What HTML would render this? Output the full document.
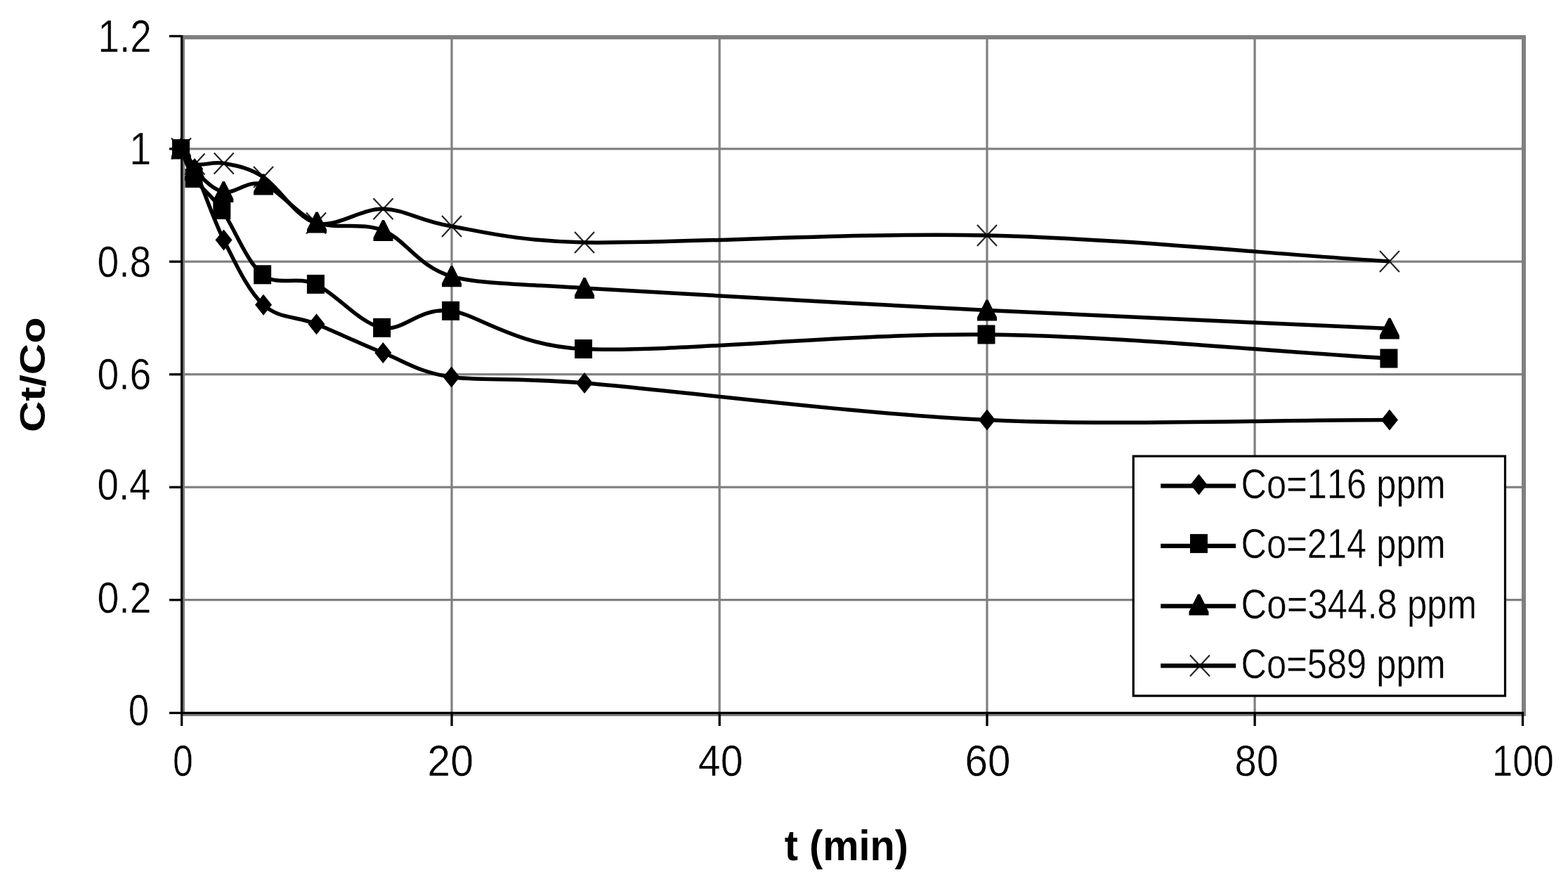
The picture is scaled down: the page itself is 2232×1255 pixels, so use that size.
<!DOCTYPE html>
<html lang="en"><head><meta charset="utf-8"><title>Ct/Co vs t (min)</title>
<style>html,body{margin:0;padding:0;background:#fff;}body{width:2232px;height:1255px;overflow:hidden;}svg{display:block;}text{font-family:"Liberation Sans",sans-serif;fill:#000;font-kerning:none;white-space:pre;stroke:#fff;stroke-width:0.8;}text.b{stroke:none;}</style></head><body>
<svg width="2232" height="1255" viewBox="0 0 2232 1255">
<rect width="2232" height="1255" fill="#fff"/>
<g fill="#808080"><rect x="641.4" y="50" width="3.2" height="969"/><rect x="1022.6" y="50" width="3.2" height="969"/><rect x="1403.4" y="50" width="3.2" height="969"/><rect x="1784.5" y="50" width="3.2" height="969"/><rect x="257" y="210.2" width="1915" height="3.2"/><rect x="257" y="370.6" width="1915" height="3.2"/><rect x="257" y="531.1" width="1915" height="3.2"/><rect x="257" y="691.6" width="1915" height="3.2"/><rect x="257" y="852.0" width="1915" height="3.2"/><rect x="257" y="50" width="1915" height="6"/><rect x="257" y="1013" width="1915" height="6"/><rect x="257" y="50" width="6" height="969"/><rect x="2166" y="50" width="6" height="969"/></g>
<g fill="#000"><rect x="257" y="50" width="3.3" height="966"/><rect x="257" y="1012.8" width="1912" height="3.3"/><rect x="241" y="49.8" width="17" height="3.3"/><rect x="241" y="210.2" width="17" height="3.3"/><rect x="241" y="370.6" width="17" height="3.3"/><rect x="241" y="531.1" width="17" height="3.3"/><rect x="241" y="691.6" width="17" height="3.3"/><rect x="241" y="852.0" width="17" height="3.3"/><rect x="241" y="1012.8" width="17" height="3.3"/><rect x="257.0" y="1013" width="3.3" height="20"/><rect x="641.4" y="1013" width="3.3" height="20"/><rect x="1022.6" y="1013" width="3.3" height="20"/><rect x="1403.4" y="1013" width="3.3" height="20"/><rect x="1784.5" y="1013" width="3.3" height="20"/><rect x="2165.9" y="1013" width="3.3" height="20"/></g>
<path d="M258.0 211.5 C260.3 214.9 269.8 224.5 277.0 240.0 C287.1 261.6 302.2 309.1 318.5 341.4 C334.8 373.7 353.0 413.8 375.0 433.8 C397.0 453.8 422.1 449.8 450.5 461.2 C478.9 472.6 513.3 489.4 545.3 502.0 C577.3 514.5 594.8 529.3 642.6 536.5 C678.1 541.8 737.5 537.4 832.0 545.0 C959.1 555.2 1214.0 588.8 1405.0 597.5 C1596.0 606.2 1787.0 597.5 1978.0 597.5" fill="none" stroke="#000" stroke-width="5.5" stroke-linejoin="round"/>
<g fill="#000"><path d="M258.0 196.5 l12 15 l-12 15 l-12 -15z"/><path d="M277.0 225.0 l12 15 l-12 15 l-12 -15z"/><path d="M318.5 326.4 l12 15 l-12 15 l-12 -15z"/><path d="M375.0 418.8 l12 15 l-12 15 l-12 -15z"/><path d="M450.5 446.2 l12 15 l-12 15 l-12 -15z"/><path d="M545.3 487.0 l12 15 l-12 15 l-12 -15z"/><path d="M642.6 521.5 l12 15 l-12 15 l-12 -15z"/><path d="M832.0 530.0 l12 15 l-12 15 l-12 -15z"/><path d="M1405.0 582.5 l12 15 l-12 15 l-12 -15z"/><path d="M1978.0 582.5 l12 15 l-12 15 l-12 -15z"/></g>
<path d="M257.5 211.6 C263.7 225.6 266.3 239.0 276.0 253.5 C285.7 268.0 299.5 275.6 315.8 298.5 C332.1 321.4 351.3 373.2 373.6 390.8 C395.9 408.4 421.1 391.8 449.4 404.4 C477.7 417.0 511.6 460.0 543.6 466.3 C575.6 472.6 593.8 437.3 641.6 442.3 C678.5 446.2 732.3 492.2 830.5 496.5 C957.6 502.1 1212.9 473.8 1404.0 476.0 C1595.1 478.2 1786.0 498.7 1977.0 510.0" fill="none" stroke="#000" stroke-width="5.5" stroke-linejoin="round"/>
<g fill="#000"><rect x="245.0" y="198.1" width="25" height="27"/><rect x="263.5" y="240.0" width="25" height="27"/><rect x="303.3" y="285.0" width="25" height="27"/><rect x="361.1" y="377.3" width="25" height="27"/><rect x="436.9" y="390.9" width="25" height="27"/><rect x="531.1" y="452.8" width="25" height="27"/><rect x="629.1" y="428.8" width="25" height="27"/><rect x="818.0" y="483.0" width="25" height="27"/><rect x="1391.5" y="462.5" width="25" height="27"/><rect x="1964.5" y="496.5" width="25" height="27"/></g>
<path d="M258.0 211.5 C264.3 221.7 266.9 231.8 277.0 242.0 C287.1 252.2 302.0 269.6 318.3 273.0 C334.6 276.4 352.9 255.2 375.0 262.5 C397.1 269.8 422.6 305.6 451.0 316.5 C479.4 327.4 513.5 315.2 545.5 328.0 C577.5 340.8 595.2 379.6 643.0 393.3 C678.6 403.5 737.3 404.0 832.0 410.0 C959.0 418.0 1214.0 431.9 1405.0 441.5 C1596.0 451.1 1787.0 458.8 1978.0 467.5" fill="none" stroke="#000" stroke-width="5.5" stroke-linejoin="round"/>
<g fill="#000"><path d="M256.5 196.5 h3 l12.5 25 v5 h-28 v-5z"/><path d="M275.5 227.0 h3 l12.5 25 v5 h-28 v-5z"/><path d="M316.8 258.0 h3 l12.5 25 v5 h-28 v-5z"/><path d="M373.5 247.5 h3 l12.5 25 v5 h-28 v-5z"/><path d="M449.5 301.5 h3 l12.5 25 v5 h-28 v-5z"/><path d="M544.0 313.0 h3 l12.5 25 v5 h-28 v-5z"/><path d="M641.5 378.3 h3 l12.5 25 v5 h-28 v-5z"/><path d="M830.5 395.0 h3 l12.5 25 v5 h-28 v-5z"/><path d="M1403.5 426.5 h3 l12.5 25 v5 h-28 v-5z"/><path d="M1976.5 452.5 h3 l12.5 25 v5 h-28 v-5z"/></g>
<path d="M258.0 211.5 C264.5 218.8 267.4 229.9 277.5 233.4 C287.6 236.9 302.4 229.3 318.7 232.4 C334.9 235.5 353.1 237.8 375.0 252.0 C396.9 266.2 421.6 309.9 450.0 317.5 C478.4 325.1 513.3 296.6 545.5 297.3 C577.7 298.1 595.2 314.1 643.0 322.0 C678.8 328.0 736.8 343.4 832.0 345.0 C959.0 347.2 1214.0 330.5 1405.0 335.0 C1596.0 339.5 1787.0 359.7 1978.0 372.0" fill="none" stroke="#000" stroke-width="5.5" stroke-linejoin="round"/>
<g fill="#000"><path d="M244.0 196.5 l28 30 m0 -30 l-28 30" fill="none" stroke="#000" stroke-opacity="0.85" stroke-width="2.2"/><path d="M263.5 218.4 l28 30 m0 -30 l-28 30" fill="none" stroke="#000" stroke-opacity="0.85" stroke-width="2.2"/><path d="M304.7 217.4 l28 30 m0 -30 l-28 30" fill="none" stroke="#000" stroke-opacity="0.85" stroke-width="2.2"/><path d="M361.0 237.0 l28 30 m0 -30 l-28 30" fill="none" stroke="#000" stroke-opacity="0.85" stroke-width="2.2"/><path d="M436.0 302.5 l28 30 m0 -30 l-28 30" fill="none" stroke="#000" stroke-opacity="0.85" stroke-width="2.2"/><path d="M531.5 282.3 l28 30 m0 -30 l-28 30" fill="none" stroke="#000" stroke-opacity="0.85" stroke-width="2.2"/><path d="M629.0 307.0 l28 30 m0 -30 l-28 30" fill="none" stroke="#000" stroke-opacity="0.85" stroke-width="2.2"/><path d="M818.0 330.0 l28 30 m0 -30 l-28 30" fill="none" stroke="#000" stroke-opacity="0.85" stroke-width="2.2"/><path d="M1391.0 320.0 l28 30 m0 -30 l-28 30" fill="none" stroke="#000" stroke-opacity="0.85" stroke-width="2.2"/><path d="M1964.0 357.0 l28 30 m0 -30 l-28 30" fill="none" stroke="#000" stroke-opacity="0.85" stroke-width="2.2"/></g>
<rect x="1613.3" y="649.1" width="529.2" height="341" fill="#fff" stroke="#000" stroke-width="3.2"/>
<rect x="1652.2" y="688.3" width="107" height="6.2" fill="#000"/>
<g fill="#000"><path d="M1706.5 674.6 l12 15 l-12 15 l-12 -15z"/></g>
<text transform="translate(1766.57,708.54) scale(0.5061,0.5956)" font-size="100">Co=116 ppm</text>
<rect x="1652.2" y="773.7" width="107" height="6.2" fill="#000"/>
<g fill="#000"><rect x="1694.0" y="759.9" width="25" height="27"/></g>
<text transform="translate(1766.57,793.94) scale(0.5061,0.5956)" font-size="100">Co=214 ppm</text>
<rect x="1652.2" y="859.3" width="107" height="6.2" fill="#000"/>
<g fill="#000"><path d="M1705.0 845.4 h3 l12.5 25 v5 h-28 v-5z"/></g>
<text transform="translate(1766.55,879.61) scale(0.5095,0.5923)" font-size="100">Co=344.8 ppm</text>
<rect x="1652.2" y="944.2" width="107" height="6.2" fill="#000"/>
<g fill="#000"><path d="M1694.0 932.3 l28 30 m0 -30 l-28 30" fill="none" stroke="#000" stroke-opacity="0.85" stroke-width="2.2"/></g>
<text transform="translate(1766.57,964.51) scale(0.5061,0.5923)" font-size="100">Co=589 ppm</text>
<text transform="translate(139.60,73.75) scale(0.5469,0.6429)" font-size="100">1.2</text>
<text transform="translate(184.2,234) scale(0.56,0.645)" font-size="100">1</text>
<text transform="translate(138.46,393.83) scale(0.5533,0.6238)" font-size="100">0.8</text>
<text transform="translate(138.46,554.22) scale(0.5533,0.6254)" font-size="100">0.6</text>
<text transform="translate(138.49,711.32) scale(0.5470,0.6282)" font-size="100">0.4</text>
<text transform="translate(138.46,871.72) scale(0.5554,0.6296)" font-size="100">0.2</text>
<text transform="translate(182.75,1032.42) scale(0.5299,0.6310)" font-size="100">0</text>
<text transform="translate(246.09,1104.12) scale(0.5175,0.6310)" font-size="100">0</text>
<text transform="translate(608.35,1104.12) scale(0.5896,0.6310)" font-size="100">20</text>
<text transform="translate(993.85,1104.12) scale(0.5728,0.6310)" font-size="100">40</text>
<text transform="translate(1373.38,1104.12) scale(0.5847,0.6310)" font-size="100">60</text>
<text transform="translate(1757.56,1104.12) scale(0.5607,0.6266)" font-size="100">80</text>
<text transform="translate(2124.05,1104.12) scale(0.5266,0.6310)" font-size="100">100</text>
<text transform="translate(1116.72,1224.40) scale(0.5773,0.6096)" font-size="100" font-weight="bold" class="b">t (min)</text>
<text transform="translate(63.75,614.96) rotate(-90) scale(0.6139,0.5013)" font-size="100" font-weight="bold" class="b">Ct/Co</text>
</svg></body></html>
